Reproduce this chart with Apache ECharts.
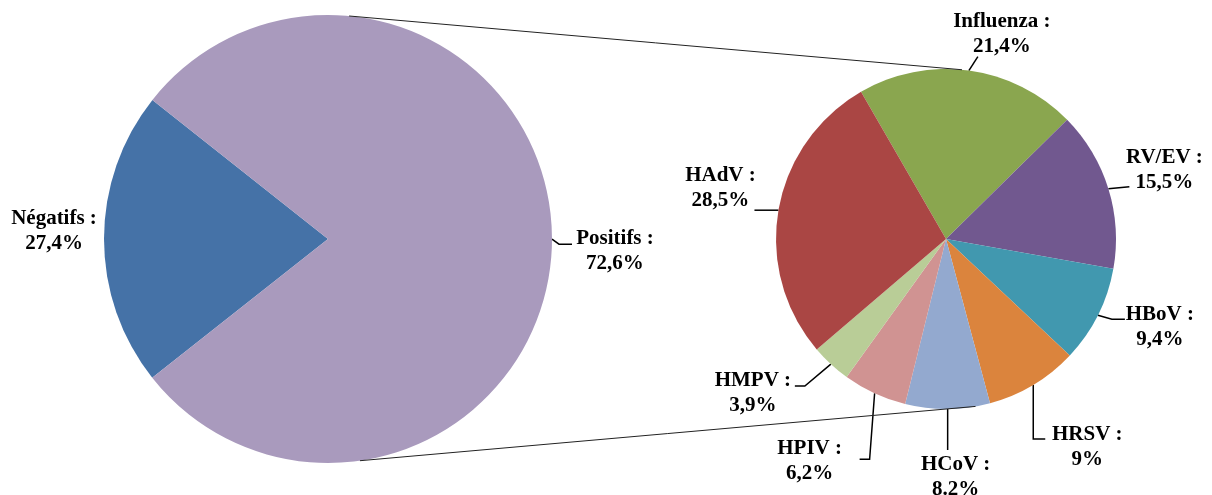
<!DOCTYPE html>
<html>
<head>
<meta charset="utf-8">
<script src="https://cdn.jsdelivr.net/npm/echarts@6/dist/echarts.min.js"></script>
<style>
html, body { margin: 0; padding: 0; background: #fff; }
#chart { width: 1212px; height: 495px; }
</style>
</head>
<body>
<div id="chart"></div>
<script>
// left pie - slice sizes as they are drawn (blue wedge is ~21% of the disc), labels as printed
var mainNames = ['Négatifs', 'Positifs'];
var mainValues = [21.3, 78.7];
var mainLabels = ['27,4%', '72,6%'];

// right pie - breakdown of the positives
var virusNames = ['Influenza', 'RV/EV', 'HBoV', 'HRSV', 'HCoV', 'HPIV', 'HMPV', 'HAdV'];
var virusValues = [21.4, 15.5, 9.4, 9, 8.2, 6.2, 3.9, 28.5];
var virusLabels = ['21,4%', '15,5%', '9,4%', '9%', '8.2%', '6,2%', '3,9%', '28,5%'];

var mainColors = ['#4572A7', '#A99ABD'];
var virusColors = ['#8AA64F', '#71588F', '#4198AF', '#DB843D', '#93A9CF', '#D09392', '#B9CD97', '#AA4644'];

var L = { c: [328, 239], r: 224, start: 218.3 };
var R = { c: [946, 239], r: 170, start: 120 };

// label box centre and leader line, relative to the slice's outer edge point
var mainLabelPos = [
    { box: [-50, -8], line: null },
    { box: [63, 12], line: [[7, 5], [20, 5]] }
];
var virusLabelPos = [
    { box: [33, -36], line: [[9, -14]] },
    { box: [56, -19], line: [[21, -2]] },
    { box: [62, 12], line: [[14, 4], [27, 4]] },
    { box: [54, 62], line: [[0, 54], [12, 54]] },
    { box: [8, 68], line: [[0, 41]] },
    { box: [-65, 68], line: [[-5, 66], [-15, 66]] },
    { box: [-78, 29], line: [[-26, 22], [-36, 22]] },
    { box: [-58, -22], line: [[-24, 0]] }
];

var myChart = echarts.init(document.getElementById('chart'));

function edgePoints(values, pie) {
    var sum = 0, acc = 0;
    values.forEach(function (v) { sum += v; });
    return values.map(function (v) {
        var mid = (pie.start - (acc + v / 2) / sum * 360) * Math.PI / 180;
        acc += v;
        return [pie.c[0] + pie.r * Math.cos(mid), pie.c[1] - pie.r * Math.sin(mid)];
    });
}

function placeLabels(values, pie, pos) {
    var edges = edgePoints(values, pie);
    return function (p) {
        var e = edges[p.dataIndex], q = pos[p.dataIndex];
        var res = {
            x: e[0] + q.box[0],
            y: e[1] + q.box[1],
            align: 'center',
            verticalAlign: 'middle'
        };
        if (q.line) {
            var pts = [e];
            q.line.forEach(function (d) { pts.push([e[0] + d[0], e[1] + d[1]]); });
            while (pts.length < 3) pts.push(pts[pts.length - 1]);
            res.labelLinePoints = pts;
        }
        return res;
    };
}

// point on a pie's rim, angle in degrees clockwise from top
function rim(pie, deg) {
    var a = deg * Math.PI / 180;
    return [pie.c[0] + pie.r * Math.sin(a), pie.c[1] - pie.r * Math.cos(a)];
}

var labelStyle = {
    show: true,
    position: 'outside',
    color: '#000',
    fontFamily: 'Liberation Serif',
    fontWeight: 'bold',
    fontSize: 21,
    lineHeight: 25,
    align: 'center'
};

var topA = rim(L, 5.4), topB = rim(R, 5.4);
var botA = rim(L, 171.8), botB = rim(R, 170);

var option = {
    animation: false,
    graphic: [
        { type: 'line', z: 10, shape: { x1: topA[0], y1: topA[1], x2: topB[0], y2: topB[1] }, style: { stroke: '#222', lineWidth: 1 } },
        { type: 'line', z: 10, shape: { x1: botA[0], y1: botA[1], x2: botB[0], y2: botB[1] }, style: { stroke: '#222', lineWidth: 1 } }
    ],
    series: [{
        type: 'pie',
        center: L.c,
        radius: L.r,
        startAngle: L.start,
        clockwise: true,
        avoidLabelOverlap: false,
        emphasis: { disabled: true },
        label: Object.assign({}, labelStyle, {
            formatter: function (p) { return p.name + ' :\n' + mainLabels[p.dataIndex]; }
        }),
        labelLine: { show: true, lineStyle: { color: '#000', width: 1.5 } },
        labelLayout: placeLabels(mainValues, L, mainLabelPos),
        data: mainNames.map(function (n, i) {
            var d = { name: n, value: mainValues[i], itemStyle: { color: mainColors[i] } };
            if (!mainLabelPos[i].line) d.labelLine = { show: false };
            return d;
        })
    }, {
        type: 'pie',
        center: R.c,
        radius: R.r,
        startAngle: R.start,
        clockwise: true,
        avoidLabelOverlap: false,
        emphasis: { disabled: true },
        label: Object.assign({}, labelStyle, {
            formatter: function (p) { return p.name + ' :\n' + virusLabels[p.dataIndex]; }
        }),
        labelLine: { show: true, lineStyle: { color: '#000', width: 1.5 } },
        labelLayout: placeLabels(virusValues, R, virusLabelPos),
        data: virusNames.map(function (n, i) {
            return { name: n, value: virusValues[i], itemStyle: { color: virusColors[i] } };
        })
    }]
};

myChart.setOption(option);
</script>
</body>
</html>
